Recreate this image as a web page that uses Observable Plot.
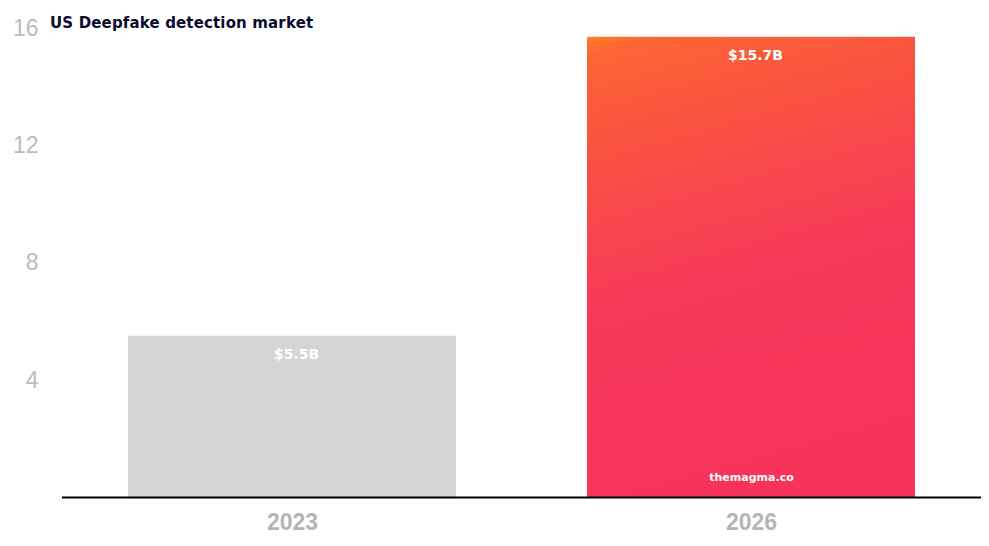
<!DOCTYPE html>
<html>
<head>
<meta charset="utf-8">
<script src="https://cdn.jsdelivr.net/npm/d3@7"></script>
<script src="https://cdn.jsdelivr.net/npm/@observablehq/plot@0.6"></script>
<style>
  html, body { margin: 0; padding: 0; background: #fff; }
  #wrap { position: relative; width: 989px; height: 546px; font-family: "Liberation Sans", Arial, Helvetica, sans-serif; }
  #title { position: absolute; left: 50px; top: 14px; font-family: "DejaVu Sans", sans-serif; font-size: 15px; font-weight: bold; color: #0b0b2e; letter-spacing: 0.15px; }
  svg { display: block; }
</style>
</head>
<body>
<div id="wrap">
  <div id="title">US Deepfake detection market</div>
</div>
<script>
const years = ["2023", "2026"];
const values = [5.5, 15.7];
const labels = ["$5.5B", "$15.7B"];
const yTicks = [4, 8, 12, 16];
const data = years.map((y, i) => ({year: y, value: values[i], label: labels[i]}));

const chart = Plot.plot({
  width: 989,
  height: 546,
  marginLeft: 62,
  marginRight: 8,
  marginTop: 28,
  marginBottom: 49,
  style: {fontFamily: "'Liberation Sans', Arial, Helvetica, sans-serif", background: "transparent"},
  x: {domain: years, paddingInner: 0.286, paddingOuter: 0.144, label: null},
  y: {domain: [0, 16], label: null},
  marks: [
    Plot.barY(data.filter(d => d.year === "2023"), {x: "year", y: "value", fill: "#d5d5d5"}),
    Plot.barY(data.filter(d => d.year === "2026"), {x: "year", y: "value", fill: "url(#magmaGrad)"}),
    Plot.text(data, {x: "year", y: "value", text: "label", dx: 4, dy: 18, fill: "white", fontWeight: "bold", fontSize: 14, fontFamily: "'DejaVu Sans', sans-serif"}),
    Plot.text(data.filter(d => d.year === "2026"), {x: "year", y: 0, text: () => "themagma.co", dy: -20, fill: "white", fontWeight: "bold", fontSize: 11, fontFamily: "'DejaVu Sans', sans-serif"}),
    Plot.ruleY([0], {stroke: "black", strokeWidth: 2}),
    Plot.axisY({ticks: yTicks, tickSize: 0, tickPadding: 24, fontSize: 23, color: "#bbbbbb", label: null}),
    Plot.axisX({tickSize: 0, tickPadding: 16, fontSize: 23, fontWeight: "bold", color: "#b5b5b5", label: null})
  ]
});

const svg = d3.select(chart);
const defs = svg.insert("defs", ":first-child");
const g = defs.append("linearGradient").attr("id", "magmaGrad")
  .attr("x1", "0").attr("y1", "0").attr("x2", "0.2").attr("y2", "1");
[["0", "#ff7f26"], ["0.04", "#fd6534"], ["0.2", "#fa553e"], ["0.6", "#f6385a"], ["1", "#f7335a"]]
  .forEach(([o, c]) => g.append("stop").attr("offset", o).attr("stop-color", c));

document.getElementById("wrap").appendChild(chart);
</script>
</body>
</html>
